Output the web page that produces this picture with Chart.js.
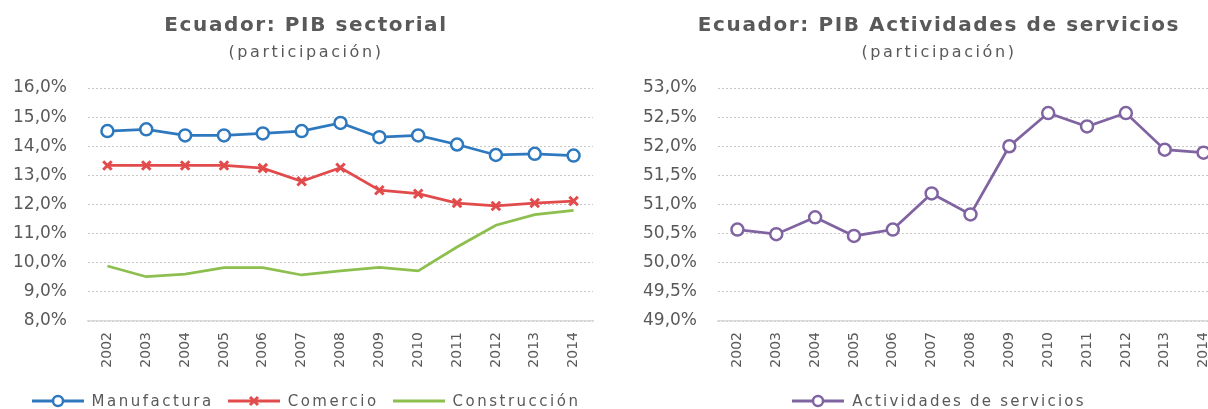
<!DOCTYPE html>
<html>
<head>
<meta charset="utf-8">
<script src="https://cdn.jsdelivr.net/npm/chart.js@4.4.1/dist/chart.umd.min.js"></script>
<style>
  html, body { margin: 0; padding: 0; background: #fff; }
  body { width: 1208px; height: 409px; position: relative; overflow: hidden; font-family: "DejaVu Sans", sans-serif; color: #595959; }
  canvas { position: absolute; top: 0; }
  #left { left: 0; }
  #right { left: 612px; }
  .title { position: absolute; top: 12px; text-align: center; font-weight: bold; font-size: 20px; line-height: 24px; letter-spacing: 1.6px; white-space: nowrap; }
  .sub { position: absolute; top: 42px; text-align: center; font-size: 16px; line-height: 20px; letter-spacing: 2.6px; white-space: nowrap; }
  .legend { position: absolute; top: 392px; height: 18px; display: flex; justify-content: center; align-items: center; font-size: 15px; line-height: 18px; letter-spacing: 2.5px; white-space: nowrap; }
  .legend.r { letter-spacing: 2.2px; }
  .legend .item { display: flex; align-items: center; margin: 0 7px; }
  .legend svg { margin-right: 8px; }
  .l { left: 0; width: 612px; }
  .r { left: 612px; width: 654px; }
</style>
</head>
<body>
<canvas id="left" width="612" height="409"></canvas>
<canvas id="right" width="654" height="409"></canvas>

<div class="title l">Ecuador: PIB sectorial</div>
<div class="sub l">(participación)</div>
<div class="title r">Ecuador: PIB Actividades de servicios</div>
<div class="sub r">(participación)</div>

<div class="legend l">
  <span class="item"><svg width="52" height="14"><line x1="0" y1="7" x2="52" y2="7" stroke="#2E78BE" stroke-width="3"/><circle cx="26" cy="7" r="5" fill="#fff" stroke="#2E78BE" stroke-width="2.5"/></svg>Manufactura</span>
  <span class="item"><svg width="52" height="14"><line x1="0" y1="7" x2="52" y2="7" stroke="#E24B4B" stroke-width="3"/><path d="M22 3 L30 11 M30 3 L22 11" stroke="#E24B4B" stroke-width="3"/></svg>Comercio</span>
  <span class="item"><svg width="52" height="14"><line x1="0" y1="7" x2="52" y2="7" stroke="#8CBF4E" stroke-width="3"/></svg>Construcción</span>
</div>
<div class="legend r">
  <span class="item"><svg width="52" height="14"><line x1="0" y1="7" x2="52" y2="7" stroke="#8064A2" stroke-width="3"/><circle cx="26" cy="7" r="5" fill="#fff" stroke="#8064A2" stroke-width="2.5"/></svg>Actividades de servicios</span>
</div>

<script>
// años y participaciones (%)
const years = ["2002", "2003", "2004", "2005", "2006", "2007", "2008", "2009", "2010", "2011", "2012", "2013", "2014"];
const manufactura = [14.52, 14.58, 14.37, 14.37, 14.44, 14.52, 14.80, 14.31, 14.37, 14.06, 13.70, 13.74, 13.68];
const comercio = [13.34, 13.34, 13.34, 13.34, 13.25, 12.80, 13.26, 12.49, 12.37, 12.05, 11.95, 12.05, 12.12];
const construccion = [9.89, 9.52, 9.61, 9.83, 9.83, 9.58, 9.72, 9.84, 9.72, 10.54, 11.29, 11.65, 11.80];
const servicios = [50.57, 50.49, 50.78, 50.46, 50.57, 51.19, 50.83, 52.00, 52.57, 52.34, 52.57, 51.94, 51.89];

const gray = "#595959";
const fontFamily = "'DejaVu Sans', sans-serif";
const pct = (v) => v.toFixed(1).replace(".", ",") + "%";

function scales(min, max, step, yWidth) {
	return {
		x: {
			offset: true,
			grid: {display: false, drawTicks: false},
			border: {display: true, color: "#D9D9D9", width: 1.5},
			ticks: {
				color: gray,
				font: {family: fontFamily, size: 14},
				minRotation: 90,
				maxRotation: 90,
				padding: 11,
				autoSkip: false,
			},
			afterFit(scale) {
				scale.height = 50;
			},
		},
		y: {
			min,
			max,
			grid: {color: "#C8C8C8", lineWidth: 1, drawTicks: false},
			border: {display: false, dash: [2, 2]},
			ticks: {
				stepSize: step,
				color: gray,
				font: {family: fontFamily, size: 17},
				padding: 21,
				callback: (v) => pct(v),
			},
			afterFit(scale) {
				scale.width = yWidth;
			},
		},
	};
}

const common = {
	responsive: false,
	animation: false,
	plugins: {legend: {display: false}, tooltip: {enabled: false}},
};

new Chart(document.querySelector("#left"), {
	type: "line",
	data: {
		labels: years,
		datasets: [
			{
				label: "Manufactura",
				data: manufactura,
				borderColor: "#2E78BE",
				backgroundColor: "#fff",
				borderWidth: 2.75,
				pointStyle: "circle",
				pointRadius: 6,
				pointBorderWidth: 2.5,
				tension: 0,
			},
			{
				label: "Comercio",
				data: comercio,
				borderColor: "#E24B4B",
				backgroundColor: "#E24B4B",
				borderWidth: 2.75,
				pointStyle: "crossRot",
				pointRadius: 6,
				pointBorderWidth: 3,
				tension: 0,
			},
			{
				label: "Construcción",
				data: construccion,
				borderColor: "#8CBF4E",
				backgroundColor: "#8CBF4E",
				borderWidth: 2.75,
				pointRadius: 0,
				tension: 0,
			},
		],
	},
	options: {
		...common,
		layout: {padding: {top: 88, bottom: 38, left: 0, right: 19}},
		scales: scales(8, 16, 1, 88),
	},
});

new Chart(document.querySelector("#right"), {
	type: "line",
	data: {
		labels: years,
		datasets: [
			{
				label: "Actividades de servicios",
				data: servicios,
				borderColor: "#8064A2",
				backgroundColor: "#fff",
				borderWidth: 2.75,
				pointStyle: "circle",
				pointRadius: 6,
				pointBorderWidth: 2.5,
				tension: 0,
			},
		],
	},
	options: {
		...common,
		layout: {padding: {top: 88, bottom: 38, left: 0, right: 43}},
		scales: scales(49, 53, 0.5, 106),
	},
});
</script>
</body>
</html>
